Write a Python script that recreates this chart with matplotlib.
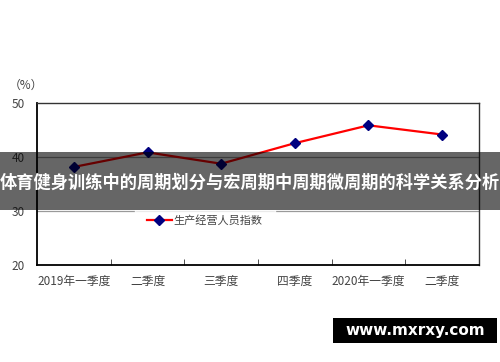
import matplotlib
matplotlib.use("Agg")
import matplotlib.pyplot as plt
from matplotlib.patches import Rectangle

plt.rcParams['font.family'] = ['Noto Sans CJK SC', 'DejaVu Sans']

quarters = ['2019年一季度', '二季度', '三季度', '四季度', '2020年一季度', '二季度']
index_vals = [38.2, 40.9, 38.8, 42.6, 45.9, 44.2]
series_name = '生产经营人员指数'
y_ticks = [20, 30, 40, 50]
banner_text = '体育健身训练中的周期划分与宏周期中周期微周期的科学关系分析'
site_text = 'www.mxrxy.com'

fig = plt.figure(figsize=(5.0, 3.62), dpi=100)
ax = fig.add_axes([0.074, 0.267, 0.884, 0.448])

x = list(range(len(quarters)))
ax.plot(x, index_vals, color='#ff0000', lw=1.6, marker='D', ms=5,
        mfc='#000080', mec='#000080', label=series_name, zorder=3)

ax.set_xlim(-0.5, len(quarters) - 0.5)
ax.set_ylim(20, 50)
ax.set_yticks(y_ticks)
ax.set_yticklabels([str(v) for v in y_ticks], fontsize=8.5, color='#444444')
ax.set_xticks(x)
ax.set_xticklabels(quarters, fontsize=8.5, color='#444444')
ax.set_xticks([i + 0.5 for i in range(len(quarters) - 1)], minor=True)
ax.tick_params(axis='x', which='major', length=0, pad=7)
ax.tick_params(axis='x', which='minor', direction='in', length=4, color='#333333')
ax.tick_params(axis='y', length=0, pad=9)

for v in [30, 40]:
    ax.axhline(v, color='#9a9a9a', lw=0.9, zorder=1)

for side in ['left', 'bottom']:
    ax.spines[side].set_linewidth(1.3)
    ax.spines[side].set_color('black')
for side in ['top', 'right']:
    ax.spines[side].set_linewidth(1.0)
    ax.spines[side].set_color('#333333')

fig.text(0.018, 0.765, '（%）', fontsize=8.5, color='#444444', ha='left', va='center')

leg = ax.legend(loc='center left', bbox_to_anchor=(0.27, 0.34, 0.34, 0.1),
                bbox_transform=fig.transFigure, frameon=True, fancybox=False,
                fontsize=8, handlelength=2.2, handletextpad=0.2,
                borderpad=1.1, borderaxespad=0)
leg.get_frame().set_facecolor('white')
leg.get_frame().set_edgecolor('white')
for t in leg.get_texts():
    t.set_color('#444444')

fig.patches.append(Rectangle((0.0, 0.420), 1.0, 0.161, transform=fig.transFigure,
                             facecolor='black', alpha=0.6, edgecolor='none', zorder=5))
fig.text(0.5, 0.495, banner_text, fontsize=12.4, fontweight='bold', color='white',
         ha='center', va='center', zorder=6)

fig.patches.append(Rectangle((0.666, 0.052), 0.328, 0.07, transform=fig.transFigure,
                             facecolor='black', edgecolor='none', zorder=5))
fig.text(0.83, 0.087, site_text, fontsize=11, fontweight='bold', color='white',
         family='DejaVu Sans', ha='center', va='center', zorder=6)

fig.savefig('out.png', dpi=100)
